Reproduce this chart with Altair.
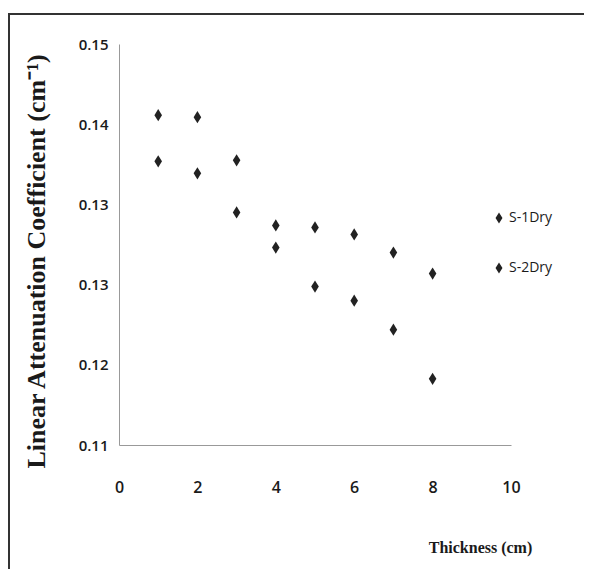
import altair as alt
import pandas as pd

thickness = [1, 2, 3, 4, 5, 6, 7, 8]
s1_dry = [0.1429, 0.1427, 0.1384, 0.1319, 0.1317, 0.1310, 0.1292, 0.1271]
s2_dry = [0.1383, 0.1371, 0.1332, 0.1297, 0.1258, 0.1244, 0.1215, 0.1166]
series_names = ["S-1Dry", "S-2Dry"]
y_ticks = [0.11, 0.118, 0.126, 0.134, 0.142, 0.15]
x_ticks = [0, 2, 4, 6, 8, 10]

rows = []
for name, vals in zip(series_names, [s1_dry, s2_dry]):
    for t, v in zip(thickness, vals):
        rows.append({"Thickness": t, "Coef": v, "Series": name})
df = pd.DataFrame(rows)

diamond = "M0,-1L0.62,0L0,1L-0.62,0Z"
sans = "Open Sans, sans-serif"

points = alt.Chart(df).mark_point(filled=True, shape=diamond, size=150, opacity=1).encode(
    x=alt.X("Thickness:Q",
            scale=alt.Scale(domain=[0, 10], nice=False, zero=False),
            axis=alt.Axis(values=x_ticks, grid=False, ticks=False, labelFlush=False,
                          domainColor="#999999", labelFont=sans, labelFontSize=16,
                          labelFontWeight=600,
                          labelColor="#1a1a1a", labelPadding=34,
                          title="Thickness (cm)", titleFont="Liberation Serif",
                          titleFontSize=16, titleFontWeight="bold", titleColor="#1a1a1a",
                          titleX=361, titleY=102, titleAlign="center",
                          titleBaseline="middle")),
    y=alt.Y("Coef:Q",
            scale=alt.Scale(domain=[0.11, 0.15], nice=False, zero=False),
            axis=alt.Axis(values=y_ticks, format=".2f", grid=False, ticks=False,
                          domainColor="#999999", labelFont=sans, labelFontSize=15,
                          labelFontWeight=600,
                          labelColor="#1a1a1a", labelPadding=11,
                          title="Linear Attenuation Coefficient (cm⁻¹)",
                          titleFont="Liberation Serif", titleFontSize=26,
                          titleFontWeight="bold", titleColor="#1a1a1a",
                          titleX=-83, titleY=217, titleAngle=-90, titleAlign="center",
                          titleBaseline="middle")),
    color=alt.Color("Series:N",
                    scale=alt.Scale(domain=series_names, range=["#222222", "#222222"]),
                    legend=alt.Legend(title=None, orient="none", legendX=373, legendY=167,
                                      symbolType=diamond, symbolSize=70,
                                      symbolFillColor="#222222", symbolStrokeColor="#222222",
                                      labelFont=sans, labelFontSize=14,
                                      labelColor="#1a1a1a", labelOffset=3,
                                      rowPadding=34)),
)

frame = pd.DataFrame({"a": [0]})
left_border = alt.Chart(frame).mark_rule(color="#333333", strokeWidth=2).encode(
    x=alt.value(-110), y=alt.value(-30), y2=alt.value(560))
top_border = alt.Chart(frame).mark_rule(color="#333333", strokeWidth=2).encode(
    x=alt.value(-111), x2=alt.value(465), y=alt.value(-30))

chart = alt.layer(points, left_border, top_border).properties(
    width=392, height=401,
    autosize=alt.AutoSizeParams(type="none"),
    padding={"left": 111, "top": 36, "right": 73, "bottom": 124},
).configure(background="white").configure_view(stroke=None)

chart.save("out.html", embed_options={"renderer": "svg", "actions": False})
